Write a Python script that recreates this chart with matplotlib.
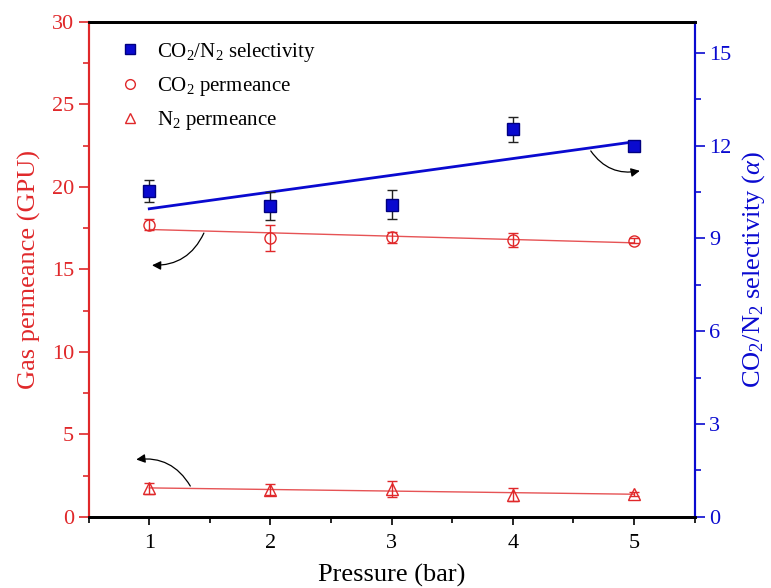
import numpy as np
import matplotlib
matplotlib.use('Agg')
import matplotlib.pyplot as plt
from matplotlib.ticker import MultipleLocator
from matplotlib.lines import Line2D

plt.rcParams['font.family'] = 'Liberation Serif'
plt.rcParams['mathtext.fontset'] = 'custom'
plt.rcParams['mathtext.rm'] = 'Liberation Serif'
plt.rcParams['mathtext.it'] = 'Liberation Serif:italic'

red = '#e0282a'
blue = '#0a0ad0'

pressure = [1, 2, 3, 4, 5]

selectivity = [10.53, 10.05, 10.09, 12.52, 12.0]
selectivity_err = [0.37, 0.46, 0.47, 0.4, 0.12]

co2_perm = [17.7, 16.88, 16.94, 16.78, 16.74]
co2_err = [0.34, 0.78, 0.35, 0.43, 0.15]

n2_perm = [1.72, 1.65, 1.7, 1.35, 1.39]
n2_err = [0.35, 0.35, 0.5, 0.4, 0.12]

fig, ax = plt.subplots(figsize=(7.71, 5.88), dpi=100)
fig.subplots_adjust(left=0.115, right=0.901, top=0.963, bottom=0.121)
ax2 = ax.twinx()

x = np.array(pressure, float)

# permeances on the left axis
ax.errorbar(x, co2_perm, yerr=co2_err, fmt='o', mfc='none', mec=red, ms=8,
            ecolor=red, elinewidth=1, capsize=3.5, capthick=1, zorder=3)
ax.errorbar(x, n2_perm, yerr=n2_err, fmt='^', mfc='none', mec=red, ms=8.5,
            ecolor=red, elinewidth=1, capsize=3.5, capthick=1, zorder=3)
for yy in (co2_perm, n2_perm):
    k, b = np.polyfit(x, yy, 1)
    ax.plot(x, k * x + b, color=red, lw=1, alpha=0.8, zorder=2)

# selectivity on the right axis
ax2.errorbar(x, selectivity, yerr=selectivity_err, fmt='s', color=blue, mec='#000080',
             ms=8, ecolor='#222222', elinewidth=1, capsize=3.5, capthick=1, zorder=3)
k, b = np.polyfit(x, selectivity, 1)
ax2.plot(x, k * x + b, color=blue, lw=2, zorder=2)

# curved arrows pointing to the axes
arrow = dict(arrowstyle='-|>', color='black', lw=0.9, mutation_scale=13)
ax2.annotate('', xy=(5.07, 11.2), xytext=(4.63, 11.9),
             arrowprops=dict(arrow, connectionstyle='arc3,rad=0.35'))
ax.annotate('', xy=(1.0, 15.25), xytext=(1.46, 17.35),
            arrowprops=dict(arrow, connectionstyle='arc3,rad=-0.35'))
ax.annotate('', xy=(0.87, 3.45), xytext=(1.35, 1.72),
            arrowprops=dict(arrow, connectionstyle='arc3,rad=0.35'))

ax.set_xlim(0.5, 5.5)
ax.set_ylim(0, 30)
ax2.set_ylim(0, 16)

ax.xaxis.set_major_locator(MultipleLocator(1))
ax.xaxis.set_minor_locator(MultipleLocator(0.5))
ax.yaxis.set_major_locator(MultipleLocator(5))
ax.yaxis.set_minor_locator(MultipleLocator(2.5))
ax2.yaxis.set_major_locator(MultipleLocator(3))
ax2.yaxis.set_minor_locator(MultipleLocator(1.5))

ax.tick_params(axis='x', which='major', direction='out', length=6, width=1.2, labelsize=16,
               colors='black', pad=6)
ax.tick_params(axis='x', which='minor', direction='out', length=4, width=1.2)
ax.tick_params(axis='y', which='major', direction='out', length=7, width=1.2, labelsize=16,
               colors=red)
ax.tick_params(axis='y', which='minor', direction='out', length=4, width=1.2, colors=red)
ax2.tick_params(axis='y', which='major', direction='out', length=7, width=1.2, labelsize=16,
                colors=blue)
ax2.tick_params(axis='y', which='minor', direction='out', length=4, width=1.2, colors=blue)

for a in (ax, ax2):
    a.spines['top'].set_linewidth(2)
    a.spines['bottom'].set_linewidth(2)
    a.spines['left'].set_color(red)
    a.spines['left'].set_linewidth(1.5)
    a.spines['right'].set_color(blue)
    a.spines['right'].set_linewidth(1.5)

ax.set_xlabel('Pressure (bar)', fontsize=19, labelpad=8)
ax.set_ylabel('Gas permeance (GPU)', fontsize=19, color=red, labelpad=8)
ax2.set_ylabel(r'CO$_2$/N$_2$ selectivity ($\mathit{\alpha}$)', fontsize=19, color=blue,
               labelpad=6)

handles = [
    Line2D([], [], ls='none', marker='s', color=blue, mec='#000080', ms=7),
    Line2D([], [], ls='none', marker='o', mfc='none', mec=red, ms=7),
    Line2D([], [], ls='none', marker='^', mfc='none', mec=red, ms=7),
]
labels = ['CO$_2$/N$_2$ selectivity', 'CO$_2$ permeance', 'N$_2$ permeance']
ax2.legend(handles, labels, loc='upper left', bbox_to_anchor=(0.01, 1.0), frameon=False,
           fontsize=15, handlelength=1.6, handletextpad=0.5, labelspacing=0.55)

fig.savefig('out.png', dpi=100)
